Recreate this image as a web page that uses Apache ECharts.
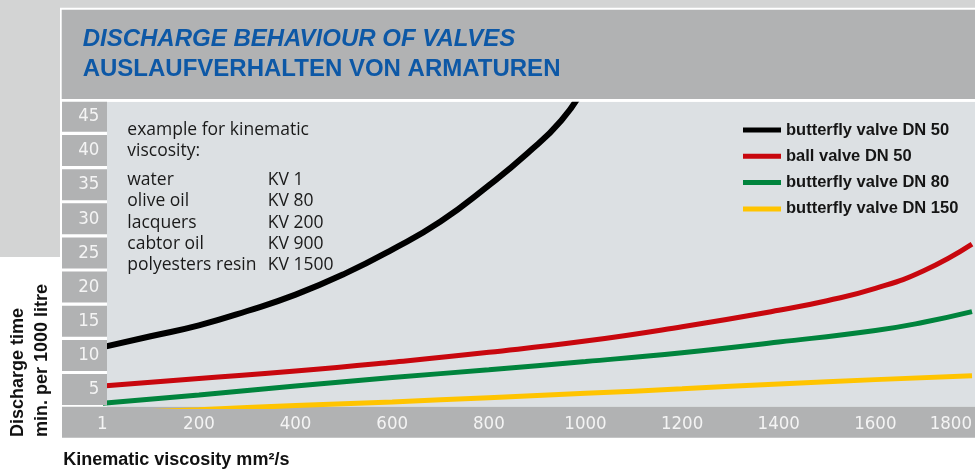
<!DOCTYPE html>
<html>
<head>
<meta charset="utf-8">
<script src="https://cdn.jsdelivr.net/npm/echarts@6/dist/echarts.min.js"></script>
<style>
html, body {margin:0; padding:0; background:#fff;}
#main {width:975px; height:473px;}
</style>
</head>
<body>
<div id="main"></div>
<script>
// tick labels
var yTicks = ['5', '10', '15', '20', '25', '30', '35', '40', '45'];
var xMin = 0, xMax = 1800, xStep = 200;

// butterfly valve DN 50
var bfly50X = [1, 100, 200, 300, 400, 500, 600, 700, 800, 880, 950, 1000];
var bfly50Y = [11.2, 12.8, 14.4, 16.5, 18.9, 21.9, 25.5, 29.6, 34.9, 39.6, 44.4, 49.5];
// ball valve DN 50
var ball50X = [1, 200, 400, 600, 800, 1000, 1200, 1400, 1500, 1600, 1700, 1800];
var ball50Y = [5.5, 6.6, 7.7, 9.0, 10.45, 12.1, 14.2, 16.6, 18.0, 19.8, 22.4, 26.3];
// butterfly valve DN 80
var bfly80X = [1, 200, 400, 600, 800, 1000, 1200, 1400, 1600, 1700, 1800];
var bfly80Y = [3.0, 4.2, 5.5, 6.75, 7.9, 9.1, 10.4, 11.95, 13.65, 14.85, 16.4];
// butterfly valve DN 150
var bfly150X = [1, 200, 400, 600, 800, 1000, 1200, 1400, 1600, 1800];
var bfly150Y = [1.5, 2.05, 2.65, 3.18, 3.81, 4.44, 5.1, 5.82, 6.45, 7.0];

var names = ['butterfly valve DN 50', 'ball valve DN 50', 'butterfly valve DN 80', 'butterfly valve DN 150'];
var colors = ['#000000', '#c8070e', '#00843d', '#ffc400'];
var widths = [6, 5, 5, 5];

function pairs(xs, ys) {
    var out = [];
    for (var i = 0; i < xs.length; i++) {
        out.push([xs[i], ys[i]]);
    }
    return out;
}

var narrow = "'Liberation Sans Narrow', 'DejaVu Sans Condensed', sans-serif";
var sans = "'Liberation Sans', Arial, sans-serif";
var boxGray = '#b1b2b3';

var myChart = echarts.init(document.getElementById('main'));

var allData = [pairs(bfly50X, bfly50Y), pairs(ball50X, ball50Y), pairs(bfly80X, bfly80Y), pairs(bfly150X, bfly150Y)];
var series = [];
for (var i = 0; i < names.length; i++) {
    series.push({
        name: names[i],
        type: 'line',
        data: allData[i],
        smooth: 0.5,
        showSymbol: false,
        clip: true,
        color: colors[i],
        lineStyle: {width: widths[i], color: colors[i]},
        z: 2
    });
}

option = {
    backgroundColor: '#ffffff',
    animation: false,
    grid: {left: 102.3, right: -6, top: 99.3, bottom: 66.4, containLabel: false},
    legend: {
        orient: 'vertical',
        left: 743,
        top: 120,
        padding: 0,
        itemGap: 6.3,
        itemWidth: 38,
        itemHeight: 5,
        icon: 'rect',
        data: names,
        textStyle: {fontFamily: sans, fontWeight: 'bold', fontSize: 16.5, color: '#151515', lineHeight: 20}
    },
    xAxis: {
        type: 'value',
        min: xMin,
        max: xMax,
        interval: xStep,
        axisLine: {show: false},
        axisTick: {show: false},
        splitLine: {show: false},
        axisLabel: {
            margin: 8,
            color: '#f4f4f4',
            fontFamily: narrow,
            fontSize: 18.5,
            lineHeight: 19,
            showMinLabel: true,
            showMaxLabel: true,
            alignMaxLabel: 'right',
            formatter: function (v) { return v === 0 ? '1' : String(v); }
        }
    },
    yAxis: [
        {
            type: 'value',
            min: 2.5,
            max: 47.5,
            show: false
        },
        {
            type: 'category',
            position: 'left',
            data: yTicks,
            boundaryGap: true,
            z: 5,
            axisLine: {show: false},
            axisTick: {show: false},
            splitLine: {show: false},
            axisLabel: {
                interval: 0,
                margin: -4.7,
                align: 'right',
                verticalAlign: 'middle',
                width: 37.3,
                height: 31,
                lineHeight: 31,
                padding: [0, 7.7, 0, 0],
                backgroundColor: boxGray,
                color: '#f4f4f4',
                fontFamily: narrow,
                fontSize: 18.5
            }
        }
    ],
    graphic: [
        // page panels
        {type: 'rect', z: -10, shape: {x: 0, y: 0, width: 975, height: 7.7}, style: {fill: '#d3d4d4'}},
        {type: 'rect', z: -10, shape: {x: 0, y: 0, width: 60, height: 257}, style: {fill: '#d3d4d4'}},
        {type: 'rect', z: -10, shape: {x: 107, y: 101.7, width: 868, height: 305}, style: {fill: '#dce0e3'}},
        {type: 'rect', z: -10, shape: {x: 62, y: 406.7, width: 913, height: 31}, style: {fill: boxGray}},
        {type: 'rect', z: 100, shape: {x: 61.7, y: 9.7, width: 913.3, height: 89.3}, style: {fill: boxGray}},
        {type: 'rect', z: 100, shape: {x: 61.7, y: 99, width: 913.3, height: 2.7}, style: {fill: '#ffffff'}},
        // header
        {type: 'text', z: 101, style: {text: 'DISCHARGE BEHAVIOUR OF VALVES', x: 82.7, y: 39.4,
            font: 'italic bold 24px ' + sans, fill: '#0d58a6', textVerticalAlign: 'middle'}},
        {type: 'text', z: 101, style: {text: 'AUSLAUFVERHALTEN VON ARMATUREN', x: 82.7, y: 69.4,
            font: 'bold 24px ' + sans, fill: '#0d58a6', textVerticalAlign: 'middle'}},
        // viscosity notes
        {type: 'text', z: 3, style: {text: 'example for kinematic\nviscosity:', x: 127.3, y: 119.3,
            font: "17.5px 'Open Sans', sans-serif", lineHeight: 21.3, fill: '#1a1a1a', textVerticalAlign: 'top'}},
        {type: 'text', z: 3, style: {text: 'water\nolive oil\nlacquers\ncabtor oil\npolyesters resin', x: 127.3, y: 169.3,
            font: "17.5px 'Open Sans', sans-serif", lineHeight: 21.3, fill: '#1a1a1a', textVerticalAlign: 'top'}},
        {type: 'text', z: 3, style: {text: 'KV 1\nKV 80\nKV 200\nKV 900\nKV 1500', x: 267.7, y: 169.3,
            font: "17.5px 'Open Sans', sans-serif", lineHeight: 21.3, fill: '#1a1a1a', textVerticalAlign: 'top'}},
        // axis names
        {type: 'text', z: 3, style: {text: 'Kinematic viscosity mm\u00b2/s', x: 63.3, y: 460,
            font: 'bold 18px ' + sans, fill: '#111', textVerticalAlign: 'middle'}},
        {type: 'text', z: 3, x: 29.8, y: 437, rotation: Math.PI / 2,
            style: {text: 'Discharge time\nmin. per 1000 litre', x: 0, y: 0, lineHeight: 24.5,
            font: 'bold 18px ' + sans, fill: '#111', textAlign: 'left', textVerticalAlign: 'middle'}}
    ],
    series: series
};

myChart.setOption(option);
</script>
</body>
</html>
